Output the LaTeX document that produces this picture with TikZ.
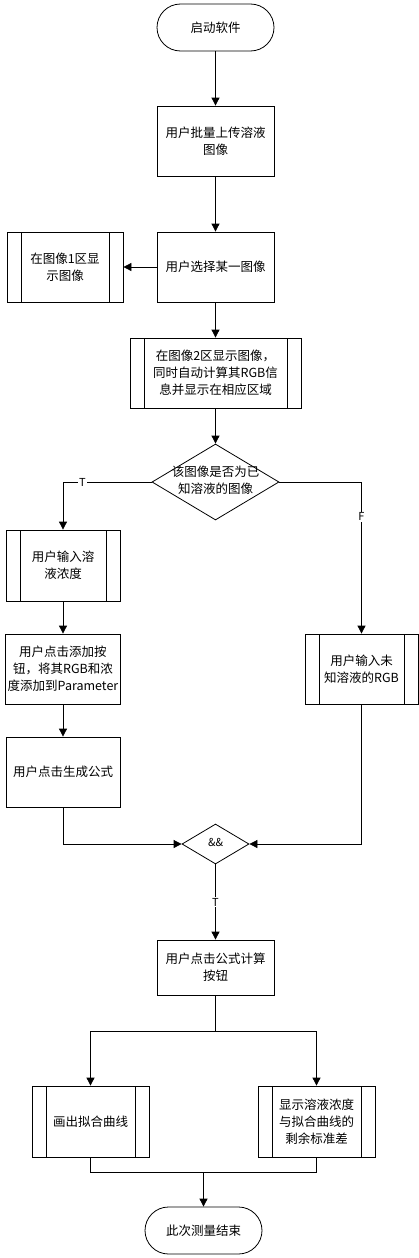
\documentclass[tikz,border=0pt]{standalone}
\usepackage{fontspec}
\setmainfont{Noto Sans CJK SC}
\usepackage{tikz}
\usetikzlibrary{arrows.meta, shapes.geometric, positioning, calc}

\tikzset{
  base/.style={draw=black, line width=0.8pt, align=center, inner sep=2pt,
    font=\fontsize{12.5}{17}\selectfont},
  term/.style={base, minimum width=117pt, minimum height=47pt, rounded corners=23.5pt},
  proc/.style={base, rectangle, minimum width=117pt, minimum height=70pt},
  subproc/.style={proc, path picture={
      \draw[line width=0.8pt] ([xshift=14pt]path picture bounding box.north west) -- ([xshift=14pt]path picture bounding box.south west);
      \draw[line width=0.8pt] ([xshift=-14pt]path picture bounding box.north east) -- ([xshift=-14pt]path picture bounding box.south east);}},
  decision/.style={base, diamond, inner sep=0pt},
  line/.style={line width=0.8pt},
  arr/.style={line, -{Triangle[length=8pt, width=8pt]}},
  tag/.style={fill=white, inner sep=1pt, font=\fontsize{11}{13}\selectfont}
}

\newcommand{\dtext}[1]{\makebox[0pt]{\begin{tabular}{@{}c@{}}#1\end{tabular}}}

\begin{document}
\begin{tikzpicture}[x=1pt, y=-1pt]
      \useasboundingbox (0, 0) rectangle (419, 1258);

      \node[term] (start) at (215.5, 27.5) {启动软件};
      \node[proc] (upload) at (215.5, 141) {用户批量上传溶液\\图像};
      \node[proc] (select) at (215.5, 267) {用户选择某一图像};
      \node[subproc, minimum width=116pt] (showa) at (65, 267) {在图像1区显\\示图像};
      \node[subproc, minimum width=171pt] (showb) at (215.5, 373) {在图像2区显示图像，\\同时自动计算其RGB信\\息并显示在相应区域};
      \node[decision, minimum width=127pt, minimum height=76pt] (known) at (215.5, 482) {\dtext{该图像是否为已\\知溶液的图像}};

      \node[subproc, minimum width=114pt, minimum height=71pt] (conc) at (63, 565.5) {用户输入溶\\液浓度};
      \node[proc, minimum width=114pt] (add) at (63, 669) {用户点击添加按\\钮，将其RGB和浓\\度添加到Parameter};
      \node[proc, minimum width=114pt] (gen) at (63, 772) {用户点击生成公式};
      \node[subproc, minimum width=113pt] (unknown) at (361.5, 669) {用户输入未\\知溶液的RGB};

      \node[decision, minimum width=67pt, minimum height=40pt, font=\fontsize{11}{13}\selectfont] (both) at (215.5, 844) {\dtext{\&\&}};
      \node[proc, minimum height=55pt] (calc) at (215.5, 967.5) {用户点击公式计算\\按钮};

      \node[subproc, minimum height=71pt] (curve) at (90.5, 1121.5) {画出拟合曲线};
      \node[subproc, minimum height=71pt] (stddev) at (316.5, 1121.5) {显示溶液浓度\\与拟合曲线的\\剩余标准差};
      \node[term] (stop) at (203.5, 1230.5) {此次测量结束};

      \coordinate (split) at (215.5, 1031);
      \coordinate (join) at (203.5, 1172);

      % main column
      \draw[arr] (start) -- (upload);
      \draw[arr] (upload) -- (select);
      \draw[arr] (select) -- (showa);
      \draw[arr] (select) -- (showb);
      \draw[arr] (showb) -- (known);

      % branches
      \draw[arr] (known.west) -| node[tag, pos=0.39] {T} (conc.north);
      \draw[arr] (known.east) -| node[tag, pos=0.615] {F} (unknown.north);
      \draw[arr] (conc) -- (add);
      \draw[arr] (add) -- (gen);
      \draw[arr] (gen.south) |- (both.west);
      \draw[arr] (unknown.south) |- (both.east);
      \draw[arr] (both) -- node[tag] {T} (calc);

      % outputs
      \draw[line] (calc.south) -- (split);
      \draw[arr] (split) -| (curve.north);
      \draw[arr] (split) -| (stddev.north);
      \draw[line] (curve.south) |- (join);
      \draw[line] (stddev.south) |- (join);
      \draw[arr] (join) -- (stop);

    \end{tikzpicture}
\end{document}
